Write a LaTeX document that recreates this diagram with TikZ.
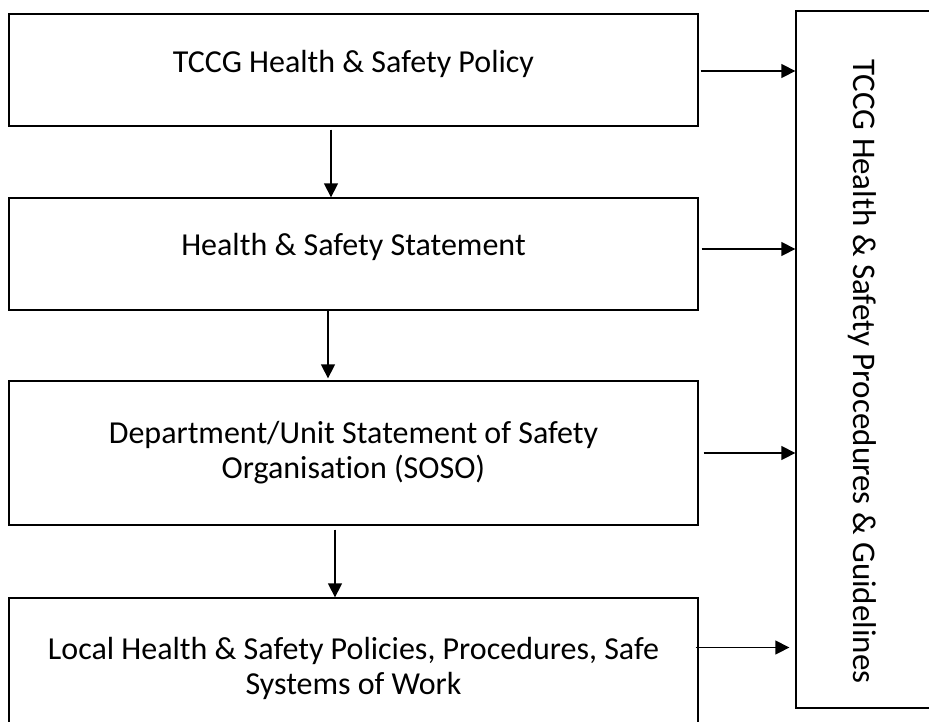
\documentclass[tikz,border=0pt]{standalone}
\usepackage{fontspec}
\setmainfont{Carlito}[Ligatures=NoCommon]
\usepackage{tikz}
\usetikzlibrary{arrows.meta}
\tikzset{box/.style={draw, line width=1.3pt, align=center, inner sep=0pt,
		font=\fontsize{32}{35}\selectfont},
	arr/.style={line width=1.3pt, -{Triangle[length=14pt,width=14pt]}}}

\begin{document}
\begin{tikzpicture}
    [x=1pt, y=-1pt]
    \useasboundingbox (0,0) rectangle (929,721);
    \clip (0,0) rectangle (929,721);
    %		policy chain on the left
    \node[box, minimum width=689pt, minimum height=112pt, text height=24pt, text depth=20pt] (pol) at (353.5,70){TCCG Health \& Safety Policy};
    \node[box, minimum width=689pt, minimum height=112pt, text height=24pt, text depth=22pt] (stmt) at (353.5,254){Health \& Safety Statement};
    \node[box, minimum width=689pt, minimum height=144pt] (soso) at (353.5,453){Department/Unit Statement of Safety\\Organisation (SOSO)};
    \node[box, minimum width=689pt, minimum height=141pt] (local) at (353.5,668.5){Local Health \& Safety Policies, Procedures, Safe\\Systems of Work};
    %		procedures box on the right, running past the page edge
    \node[box, rotate=-90, minimum width=697pt, minimum height=200pt, text height=93pt, text depth=7pt,
    	font=\fontsize{33}{36}\selectfont] (guide) at (896,359.5){\hspace*{24pt}TCCG Health \& Safety Procedures \& Guidelines};
    \draw[arr] ([xshift=-22.5pt,yshift=-3pt]pol.south) -- ([xshift=-22.5pt]stmt.north);
    \draw[arr] ([xshift=-25.5pt]stmt.south) -- ([xshift=-25.5pt,yshift=2pt]soso.north);
    \draw[arr] ([xshift=-18.5pt,yshift=-4pt]soso.south) -- ([xshift=-18.5pt]local.north);
    \draw[arr] ([xshift=2pt,yshift=-1pt]pol.east) -- ([yshift=-1pt]pol.east -| guide.south);
    \draw[arr] ([xshift=3pt,yshift=5pt]stmt.east) -- ([yshift=5pt]stmt.east -| guide.south);
    \draw[arr] ([xshift=5pt]soso.east) -- (soso.east -| guide.south);
    \draw[arr] ([xshift=-3pt,yshift=21pt]local.east) -- ([xshift=-6pt,yshift=21pt]local.east -| guide.south);
    \end{tikzpicture}
\end{document}
